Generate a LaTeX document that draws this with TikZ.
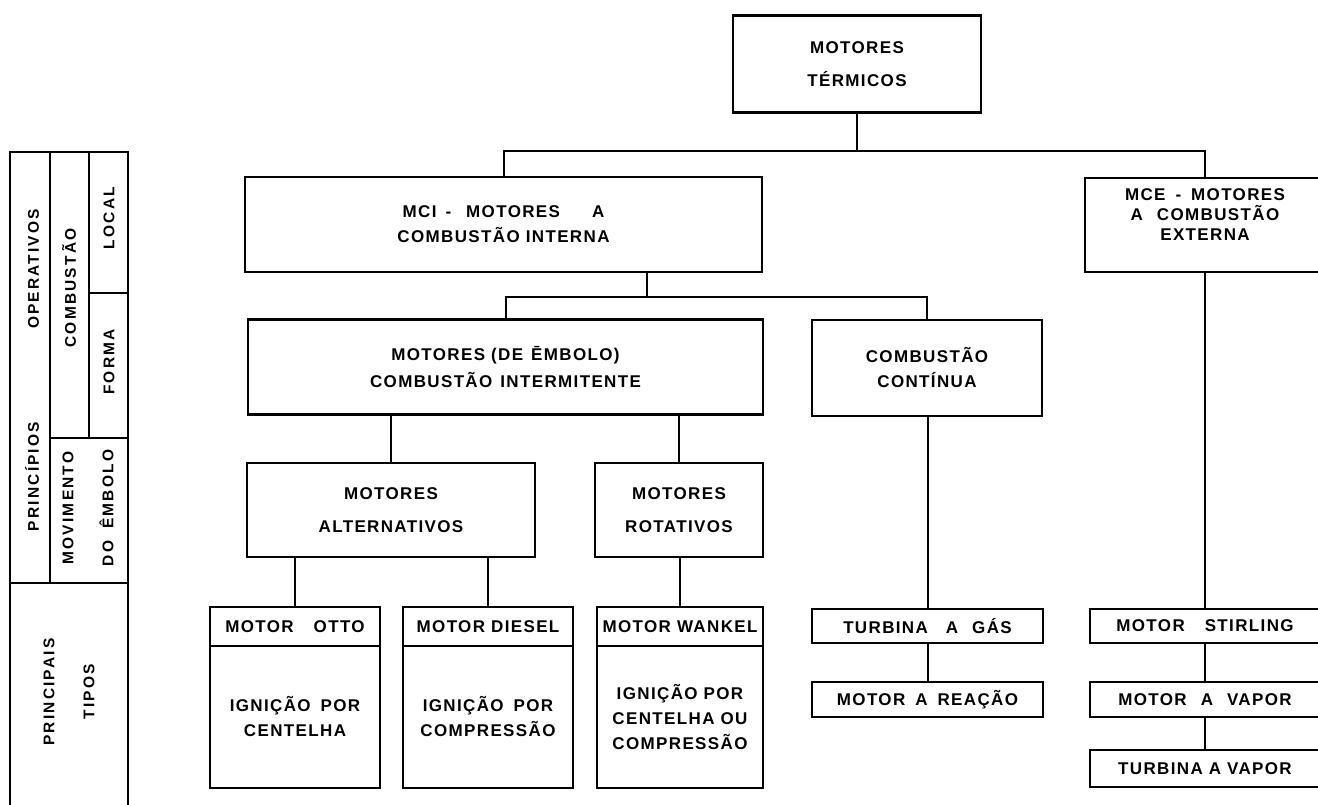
\documentclass[tikz,border=0pt]{standalone}
\usepackage{fontspec}
\setmainfont{Liberation Sans}
\newfontfamily\lettering[LetterSpace=8]{Liberation Sans Bold}
\newfontfamily\tablelettering[LetterSpace=14]{Liberation Sans Bold}

\begin{document}
\begin{tikzpicture}[x=1pt, y=-1pt,
	box/.style={shape=rectangle, draw, line width=2.4pt, align=center, inner sep=0pt, font=\lettering\fontsize{17}{25}\selectfont},
	wire/.style={line width=2pt},
	cell/.style={rotate=90, align=center, inner sep=0pt, font=\tablelettering\fontsize{15.5}{40}\selectfont}]
	\clip (0, 0) rectangle (1318, 804);
	% Left table:
	\draw[wire] (10, 830) -- (10, 152) -- (128, 152) -- (128, 830);
	\draw[wire] (50, 152) -- (50, 583);
	\draw[wire] (89, 152) -- (89, 438);
	\draw[wire] (89, 293) -- (128, 293);
	\draw[wire] (50, 438) -- (128, 438);
	\draw[wire] (10, 583) -- (128, 583);
	\node[cell] (principios) at (32, 370) {PRINCÍPIOS\hspace{93pt}OPERATIVOS};
	\node[cell] (combustao) at (69, 288) {COMBUSTÃO};
	\node[cell] (local) at (109, 218) {LOCAL};
	\node[cell] (forma) at (109, 362) {FORMA};
	\node[cell] (movimento) at (88, 508) {MOVIMENTO\\DO\hspace{12pt}ÊMBOLO};
	\node[cell] (tipos) at (69, 692) {PRINCIPAIS\\TIPOS};
	% Boxes:
	\node[box, minimum width=248pt, minimum height=97pt] (termicos) at (857, 64) {MOTORES\\[8pt]TÉRMICOS};
	\node[box, minimum width=517pt, minimum height=95pt] (mci) at (503.5, 224.5) {MCI\hspace{9pt}-\hspace{15pt}MOTORES\hspace{32pt}A\\COMBUSTÃO INTERNA};
	\node[box, minimum width=240pt, minimum height=94pt, text depth=20pt] (mce) at (1205, 225) {MCE\hspace{10pt}-\hspace{10pt}MOTORES\\[-5pt]A\hspace{14pt}COMBUSTÃO\\[-5pt]EXTERNA};
	\node[box, minimum width=515pt, minimum height=95pt] (embolo) at (505.5, 367) {MOTORES (DE\hspace{8pt}ĒMBOLO)\\[2pt]COMBUSTÃO\hspace{8pt}INTERMITENTE};
	\node[box, minimum width=230pt, minimum height=96pt] (continua) at (927, 368) {COMBUSTÃO\\CONTÍNUA};
	\node[box, minimum width=288pt, minimum height=94pt] (alternativos) at (391, 510) {MOTORES\\[8pt]ALTERNATIVOS};
	\node[box, minimum width=168pt, minimum height=94pt] (rotativos) at (679, 510) {MOTORES\\[8pt]ROTATIVOS};
	\node[box, minimum width=170pt, minimum height=39pt] (otto) at (295, 626.5) {MOTOR\hspace{20pt}OTTO};
	\node[box, minimum width=170pt, minimum height=142pt] (ottobody) at (295, 717) {IGNIÇÃO\hspace{10pt}POR\\CENTELHA};
	\node[box, minimum width=170pt, minimum height=39pt] (diesel) at (488, 626.5) {MOTOR DIESEL};
	\node[box, minimum width=170pt, minimum height=142pt] (dieselbody) at (488, 717) {IGNIÇÃO\hspace{10pt}POR\\COMPRESSÃO};
	\node[box, minimum width=166pt, minimum height=39pt] (wankel) at (680, 626.5) {MOTOR WANKEL};
	\node[box, minimum width=166pt, minimum height=142pt] (wankelbody) at (680, 717) {IGNIÇÃO POR\\CENTELHA OU\\COMPRESSÃO};
	\node[box, minimum width=231pt, minimum height=34pt] (turbinagas) at (927.5, 626) {TURBINA\hspace{18pt}A\hspace{14pt}GÁS};
	\node[box, minimum width=231pt, minimum height=35pt] (reacao) at (927.5, 699.5) {MOTOR\hspace{10pt}A\hspace{10pt}REAÇÃO};
	\node[box, minimum width=230pt, minimum height=34pt] (stirling) at (1205, 626) {MOTOR\hspace{20pt}STIRLING};
	\node[box, minimum width=230pt, minimum height=35pt] (vapor) at (1205, 699.5) {MOTOR\hspace{14pt}A\hspace{14pt}VAPOR};
	\node[box, minimum width=230pt, minimum height=37pt] (turbinavapor) at (1205, 768.5) {TURBINA\hspace{6pt}A\hspace{6pt}VAPOR};
	% Connectors:
	\draw[wire] (termicos.south) -- ++(0, 37) coordinate (bus1);
	\draw[wire] (mci.north) |- (bus1) -| (mce.north);
	\coordinate (bus2) at (647, 297);
	\draw[wire] (mci.south -| bus2) -- (bus2);
	\draw[wire] (embolo.north) |- (bus2) -| (continua.north);
	\draw[wire] (alternativos.north) -- (alternativos.north |- embolo.south);
	\draw[wire] (rotativos.north) -- (rotativos.north |- embolo.south);
	\draw[wire] (otto.north) -- (otto.north |- alternativos.south);
	\draw[wire] (diesel.north) -- (diesel.north |- alternativos.south);
	\draw[wire] (wankel.north) -- (wankel.north |- rotativos.south);
	\draw[wire] (turbinagas.north) -- (turbinagas.north |- continua.south);
	\draw[wire] (turbinagas.south) -- (reacao.north);
	\draw[wire] (mce.south) -- (stirling.north);
	\draw[wire] (stirling.south) -- (vapor.north);
	\draw[wire] (vapor.south) -- (turbinavapor.north);
\end{tikzpicture}
\end{document}
